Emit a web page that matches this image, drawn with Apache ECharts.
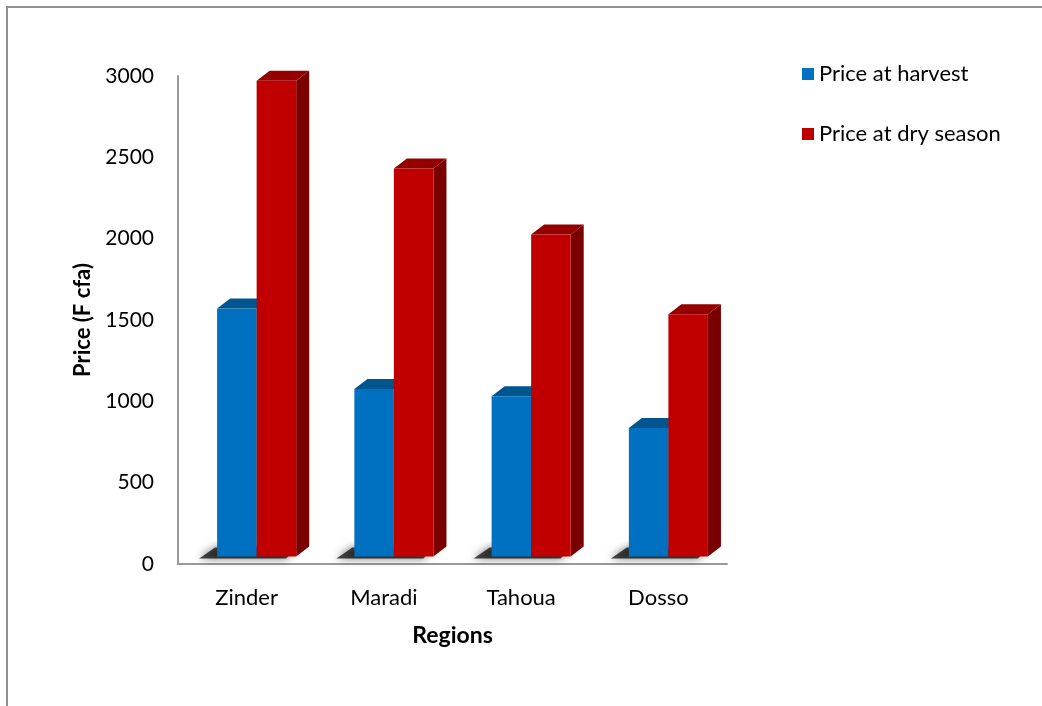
<!DOCTYPE html>
<html>
<head>
<meta charset="utf-8">
<script src="https://cdn.jsdelivr.net/npm/echarts@6/dist/echarts.min.js"></script>
<style>
  html, body { margin: 0; padding: 0; background: #fff; }
  #chart { width: 1042px; height: 706px; }
</style>
</head>
<body>
<div id="chart"></div>
<script>
// Crop prices by region
const categories = ['Zinder', 'Maradi', 'Tahoua', 'Dosso'];
const harvestPrices = [1525, 1030, 985, 790];
const drySeasonPrices = [2925, 2385, 1980, 1490];
const seriesNames = ['Price at harvest', 'Price at dry season'];
const yMin = 0, yMax = 3000, yStep = 500;

// Face colours of the extruded columns: front, top, side
const palettes = [
  { front: '#0070C0', top: '#00558F', side: '#004A7D' },
  { front: '#C00000', top: '#940000', side: '#7A0000' }
];

const FONT = 'Lato, "Open Sans", sans-serif';

// Draws one extruded column (front face, top and right side) with a soft floor shadow
function makeRenderItem(seriesIdx) {
  return function (params, api) {
    const idx = api.value(0);
    const val = api.value(1);
    const base = api.coord([idx, 0]);
    const top = api.coord([idx, val]);
    const band = api.size([1, 0])[0];
    const barW = band * 0.288;
    const pushX = band * 0.073;   // columns sit slightly back from the floor's front edge
    const pushY = 7.5;
    const ex = band * 0.095;      // extrusion of the depth faces
    const ey = 10;
    const left = base[0] + pushX - barW + seriesIdx * barW;
    const y0 = base[1] - pushY;
    const yt = top[1] - pushY;
    const pal = palettes[seriesIdx];
    const children = [];
    if (seriesIdx === 0) {
      children.push({
        type: 'polygon',
        shape: { points: [[left - 18, y0 + 2], [left - 2, y0 - 9], [left + 2 * barW, y0 - 9], [left + 2 * barW - 10, y0 + 2]] },
        style: { fill: 'rgba(0,0,0,0.7)', shadowBlur: 8, shadowColor: 'rgba(0,0,0,0.8)' },
        z2: 0
      });
    }
    children.push({
      type: 'polygon',
      shape: { points: [[left + barW, yt], [left + barW + ex, yt - ey], [left + barW + ex, y0 - ey], [left + barW, y0]] },
      style: { fill: pal.side },
      z2: 1
    });
    children.push({
      type: 'polygon',
      shape: { points: [[left, yt], [left + ex, yt - ey], [left + barW + ex, yt - ey], [left + barW, yt]] },
      style: { fill: pal.top },
      z2: 1
    });
    children.push({
      type: 'rect',
      shape: { x: left, y: yt, width: barW, height: y0 - yt },
      style: { fill: pal.front },
      z2: 2
    });
    return { type: 'group', children: children };
  };
}

function seriesData(values) {
  return values.map(function (v, i) { return [i, v]; });
}

const chart = echarts.init(document.getElementById('chart'), null, { renderer: 'canvas' });

chart.setOption({
  backgroundColor: '#ffffff',
  animation: false,
  graphic: [{
    type: 'rect',
    shape: { x: 7, y: 7, width: 1100, height: 760 },
    style: { fill: 'none', stroke: '#8f8f8f', lineWidth: 2 },
    silent: true
  }],
  grid: { left: 178, right: 315, top: 76, bottom: 142, containLabel: false },
  legend: {
    orient: 'vertical',
    left: 797,
    top: 58,
    itemWidth: 12,
    itemHeight: 12,
    itemGap: 38,
    icon: 'rect',
    textStyle: { fontFamily: FONT, fontSize: 22, color: '#000' },
    data: seriesNames
  },
  xAxis: {
    type: 'category',
    data: categories,
    name: 'Regions',
    nameLocation: 'middle',
    nameGap: 60,
    nameTextStyle: { fontFamily: FONT, fontSize: 23, fontWeight: 'bold', color: '#000' },
    axisLine: { show: true, lineStyle: { color: '#9a9a9a', width: 2 } },
    axisTick: { show: false },
    axisLabel: { fontFamily: FONT, fontSize: 22, color: '#000', margin: 23 },
    splitLine: { show: false }
  },
  yAxis: {
    type: 'value',
    min: yMin,
    max: yMax,
    interval: yStep,
    name: 'Price (F cfa)',
    nameLocation: 'middle',
    nameRotate: 90,
    nameGap: 83,
    nameTextStyle: { fontFamily: FONT, fontSize: 22, fontWeight: 'bold', color: '#000' },
    axisLine: { show: true, lineStyle: { color: '#9a9a9a', width: 2 } },
    axisTick: { show: false },
    axisLabel: {
      fontFamily: FONT, fontSize: 21, color: '#000', margin: 24,
      formatter: function (v) { return String(v); }
    },
    splitLine: { show: false }
  },
  series: [
    {
      name: seriesNames[0],
      type: 'custom',
      itemStyle: { color: palettes[0].front },
      renderItem: makeRenderItem(0),
      encode: { x: 0, y: 1 },
      data: seriesData(harvestPrices),
      z: 2
    },
    {
      name: seriesNames[1],
      type: 'custom',
      itemStyle: { color: palettes[1].front },
      renderItem: makeRenderItem(1),
      encode: { x: 0, y: 1 },
      data: seriesData(drySeasonPrices),
      z: 3
    }
  ]
});
</script>
</body>
</html>
